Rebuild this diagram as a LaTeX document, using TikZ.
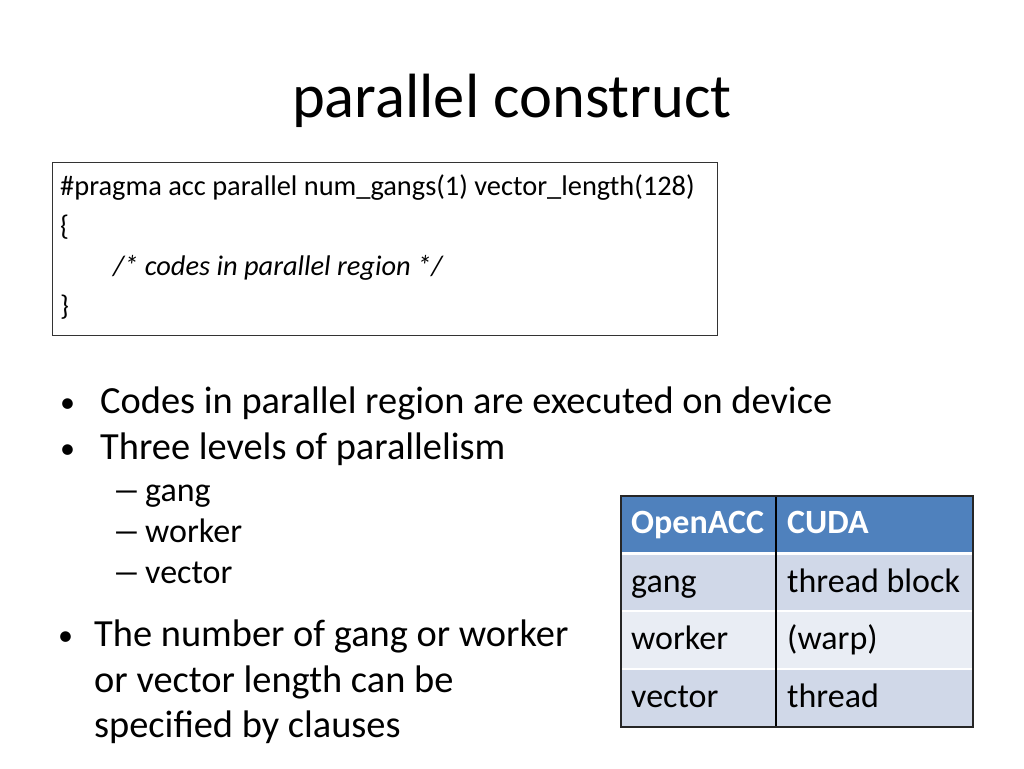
\documentclass[tikz,border=0pt]{standalone}
\usepackage{fontspec}
\setmainfont{Carlito}
\definecolor{headblue}{HTML}{4F81BD}
\definecolor{rowdark}{HTML}{D0D8E8}
\definecolor{rowlight}{HTML}{E9EDF4}
\begin{document}
\begin{tikzpicture}[x=1pt,y=-1pt]
  \tikzstyle{txt} = [anchor=base west, inner sep=0pt]
  \tikzstyle{title} = [anchor=base, inner sep=0pt, font=\fontsize{62.5}{75}\selectfont]
  \tikzstyle{code} = [txt, font=\fontsize{28.4}{34}\selectfont]
  \tikzstyle{dot} = [txt, font=\fontsize{30}{36}\selectfont]
  \tikzstyle{bullet} = [txt, font=\fontsize{38.4}{46}\selectfont]
  \tikzstyle{sub} = [txt, font=\fontsize{34}{41}\selectfont]
  \tikzstyle{cell} = [txt, font=\fontsize{34}{41}\selectfont]
  \tikzstyle{head} = [cell, font=\fontsize{34}{41}\selectfont\bfseries, text=white]

  \useasboundingbox (0,0) rectangle (1024,768);

  \node[title] (t) at (512,117) {parallel construct};

  % code box
  \draw[black!80, line width=0.8pt] (52,162) rectangle (717,335);
  \node[code] (c1) at (60,195) {\#pragma acc parallel num\_gangs(1) vector\_length(128)};
  \node[code] (c2) at (60,235) {\{};
  \node[code] (c3) at (113,275) {\itshape /* codes in parallel region */};
  \node[code] (c4) at (60,315) {\}};

  % bullets
  \node[dot] (d1) at (60,412) {•};
  \node[bullet] (b1) at (100,413) {Codes in parallel region are executed on device};
  \node[dot] (d2) at (60,458) {•};
  \node[bullet] (b2) at (100,459) {Three levels of parallelism};
  \node[sub] (m1) at (112,501) {\scalebox{1.7}[1]{–}};
  \node[sub] (s1) at (145,501) {gang};
  \node[sub] (m2) at (112,542) {\scalebox{1.7}[1]{–}};
  \node[sub] (s2) at (145,542) {worker};
  \node[sub] (m3) at (112,583) {\scalebox{1.7}[1]{–}};
  \node[sub] (s3) at (145,583) {vector};
  \node[dot] (d3) at (58,645) {•};
  \node[bullet] (b3) at (94,646) {The number of gang or worker};
  \node[bullet] (b4) at (94,692) {or vector length can be};
  \node[bullet] (b5) at (94,737) {specified by clauses};

  % table
  \fill[headblue] (621,496) rectangle (973,553);
  \fill[rowdark] (621,553) rectangle (973,611);
  \fill[rowlight] (621,611) rectangle (973,669);
  \fill[rowdark] (621,669) rectangle (973,727);
  \draw[white, line width=3pt] (621,553) -- (973,553);
  \draw[white, line width=2pt] (621,611) -- (973,611);
  \draw[white, line width=2pt] (621,669) -- (973,669);
  \draw[black, line width=1.2pt] (776,496) -- (776,727);
  \draw[black!85, line width=1.2pt] (621,496) rectangle (973,727);

  \node[head] (h1) at (631,533) {OpenACC};
  \node[head] (h2) at (787,533) {CUDA};
  \node[cell] (g1) at (631,592) {gang};
  \node[cell] (g2) at (787,592) {thread block};
  \node[cell] (w1) at (631,649) {worker};
  \node[cell] (w2) at (787,649) {(warp)};
  \node[cell] (v1) at (631,707) {vector};
  \node[cell] (v2) at (787,707) {thread};
\end{tikzpicture}
\end{document}
